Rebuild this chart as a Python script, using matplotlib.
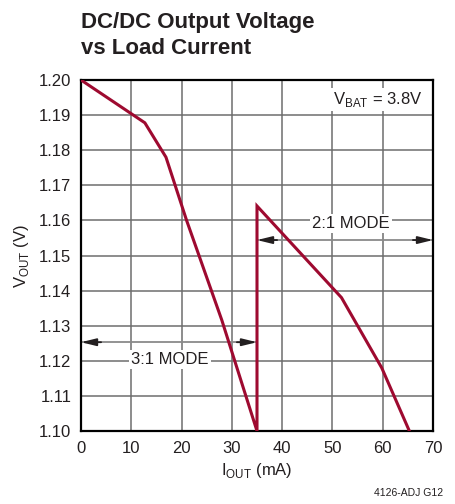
import numpy as np
import matplotlib.pyplot as plt

plt.rcParams['font.family'] = ['Liberation Sans Narrow', 'Liberation Sans', 'DejaVu Sans']

# curve: 3:1 mode, jump, then 2:1 mode
i_out = [0, 12.7, 16.9, 21.0, 28.0, 35.0, 35.0, 51.8, 59.8, 65.3]
v_out = [1.200, 1.1878, 1.178, 1.160, 1.1316, 1.100, 1.1641, 1.138, 1.118, 1.100]

x_ticks = [0, 10, 20, 30, 40, 50, 60, 70]
y_ticks = [1.10, 1.11, 1.12, 1.13, 1.14, 1.15, 1.16, 1.17, 1.18, 1.19, 1.20]

# mode ranges (start, end, arrow level)
mode_3to1 = (0, 35, 1.1253)
mode_2to1 = (35, 70, 1.1544)

fig = plt.figure(figsize=(4.56, 5.04), dpi=100)
ax = fig.add_axes([0.1776, 0.1448, 0.772, 0.6965])

ax.plot(i_out, v_out, color='#9e0a30', lw=2.2, solid_joinstyle='miter', zorder=3)

ax.set_xlim(0, 70)
ax.set_ylim(1.10, 1.20)
ax.set_xticks(x_ticks)
ax.set_yticks(y_ticks)
ax.set_yticklabels(['%.2f' % v for v in y_ticks])
ax.tick_params(length=0, labelsize=12, pad=7, colors='#231f20')
ax.grid(True, color='#6d6d6d', lw=1.1)
for s in ax.spines.values():
    s.set_linewidth(1.6)
    s.set_color('black')

# mode arrows: gray shaft, black heads
head = dict(arrowstyle='-|>,head_length=0.9,head_width=0.22', color='#231f20', lw=1.3,
            shrinkA=0, shrinkB=0)
for x0, x1, yv in [mode_3to1, mode_2to1]:
    ax.plot([x0, x1], [yv, yv], color='#8a8a8a', lw=1.3, zorder=2)
    ax.annotate('', xy=(x0, yv), xytext=(x0 + 4, yv), arrowprops=head, zorder=2.2)
    ax.annotate('', xy=(x1, yv), xytext=(x1 - 4, yv), arrowprops=head, zorder=2.2)

box = dict(facecolor='white', edgecolor='none', pad=1.5)
ax.text(17.7, 1.1205, '3:1 MODE', fontsize=12, ha='center', va='center',
        color='#231f20', bbox=box, zorder=2.5)
ax.text(53.7, 1.1592, '2:1 MODE', fontsize=12, ha='center', va='center',
        color='#231f20', bbox=box, zorder=2.5)
ax.text(68, 1.1945, r'V$_{\mathregular{BAT}}$ = 3.8V', fontsize=12, ha='right', va='center',
        color='#231f20', bbox=box, zorder=2.5)

ax.set_xlabel(r'I$_{\mathregular{OUT}}$ (mA)', fontsize=12, color='#231f20', labelpad=4)
ax.set_ylabel(r'V$_{\mathregular{OUT}}$ (V)', fontsize=12, color='#231f20', labelpad=6)

fig.text(0.1776, 0.930, 'DC/DC Output Voltage\nvs Load Current', fontsize=16,
         fontweight='bold', ha='left', va='center', linespacing=1.3, color='#231f20')
fig.text(0.895, 0.022, '4126-ADJ G12', fontsize=7.5, ha='center', va='center',
         color='#231f20')

fig.savefig('out.png', dpi=100)
